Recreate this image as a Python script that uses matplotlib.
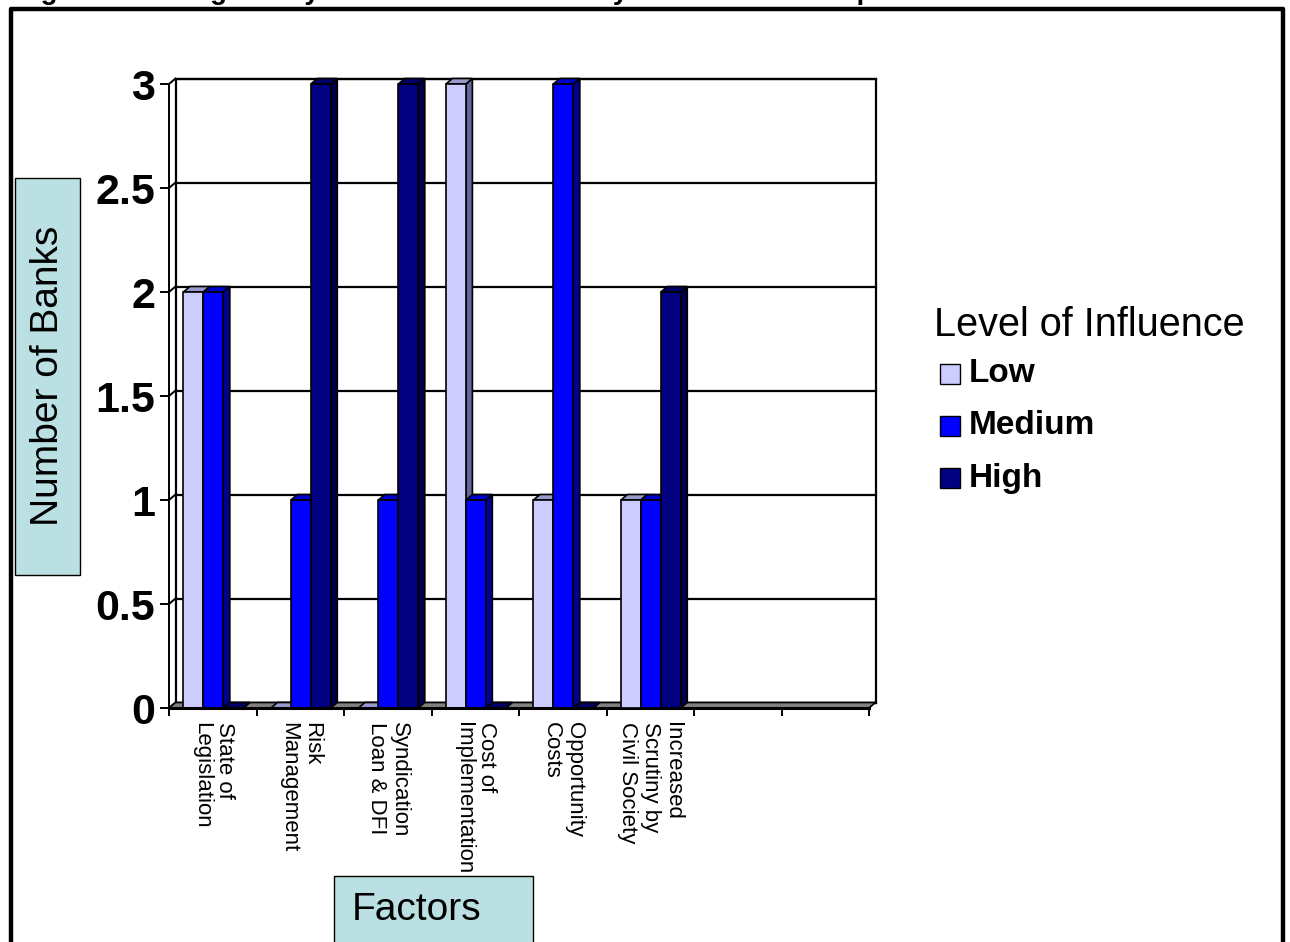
import matplotlib
matplotlib.use("Agg")
import matplotlib.pyplot as plt
from matplotlib.patches import Polygon, Rectangle
from matplotlib.lines import Line2D
import numpy as np

plt.rcParams['font.family'] = ['Liberation Sans', 'DejaVu Sans']

# ---- data -------------------------------------------------------------
categories = [
    "State of\nLegislation",
    "Risk\nManagement",
    "Syndication\nLoan & DFI",
    "Cost of\nImplementation",
    "Opportunity\nCosts",
    "Increased\nScrutiny by\nCivil Society",
    "",
    "",
]
series_names = ["Low", "Medium", "High"]
low_values = [2, 0, 0, 3, 1, 1, None, None]
medium_values = [2, 1, 1, 1, 3, 1, None, None]
high_values = [0, 3, 3, 0, 0, 2, None, None]
y_ticks = [0, 0.5, 1, 1.5, 2, 2.5, 3]
y_tick_labels = ["0", "0.5", "1", "1.5", "2", "2.5", "3"]

title_text = "Figure 3: Rating of Key Factors Considered by Banks in EP Adoption Process"
y_label = "Number of Banks"
x_label = "Factors"
legend_title = "Level of Influence"

# face / top / side shades for each series
front_colors = ["#CCCCFF", "#0000FF", "#000080"]
top_colors = ["#9999CC", "#0000CC", "#000066"]
side_colors = ["#666699", "#000099", "#00004D"]

W, H = 1290, 942
fig = plt.figure(figsize=(W / 100, H / 100), dpi=100)


def fx(px):
    return px / W


def fy(py):
    return 1 - py / H


# outer frame (open at the bottom)
fig.add_artist(Line2D([fx(11), fx(11), fx(1283), fx(1283)],
                      [fy(945), fy(9), fy(9), fy(945)],
                      color="black", lw=3.2, transform=fig.transFigure))

# title, running off the top edge
fig.text(fx(16), fy(-1), title_text, fontsize=20, fontweight="bold",
         ha="left", va="baseline")

# plot axes: front plane of the 3-D box
x0_px, x1_px, y0_px, y1_px = 169, 869, 708, 84
ax = fig.add_axes([fx(x0_px), fy(y0_px), (x1_px - x0_px) / W, (y0_px - y1_px) / H])
n_cat = len(categories)
ax.set_xlim(0, n_cat)
ax.set_ylim(0, 3)
ax.patch.set_visible(False)

# depth offset of the box (data units)
dx = 6.5 / ((x1_px - x0_px) / n_cat)
dy = 5.5 / ((y0_px - y1_px) / 3)

for s in ["top", "right"]:
    ax.spines[s].set_visible(False)
ax.spines["left"].set_linewidth(1.4)
ax.spines["bottom"].set_linewidth(2.2)
ax.spines["left"].set_zorder(1)

ax.set_yticks(y_ticks)
ax.set_yticklabels(y_tick_labels, fontsize=31, fontweight="bold")
ax.tick_params(axis="y", length=6.5, width=1.4, pad=3.5)

ax.set_xticks(np.arange(0, n_cat + 1))
ax.set_xticklabels([])
ax.tick_params(axis="x", which="major", length=6, width=1.4)
ax.set_xticks(np.arange(n_cat) + 0.5, minor=True)
ax.set_xticklabels(categories, minor=True, rotation=270, fontsize=16,
                   linespacing=1.1)
ax.tick_params(axis="x", which="minor", length=0, pad=10)
for t in ax.get_xticklabels(minor=True):
    t.set_multialignment("left")

# back wall
ax.add_patch(Polygon([(dx, dy), (n_cat + dx, dy), (n_cat + dx, 3 + dy), (dx, 3 + dy)],
                     closed=True, facecolor="white", edgecolor="black", lw=1.6,
                     zorder=0.5, clip_on=False))
# gridlines on the back wall plus connectors across the side wall
for v in y_ticks:
    ax.plot([dx, n_cat + dx], [v + dy, v + dy], color="black", lw=1.6,
            zorder=0.6, clip_on=False)
    ax.plot([0, dx], [v, v + dy], color="black", lw=1.4, zorder=0.6, clip_on=False)
# back edge of the side wall
ax.plot([dx, dx], [dy, 3 + dy], color="black", lw=1.4, zorder=0.6, clip_on=False)

# floor
ax.add_patch(Polygon([(0, 0), (n_cat, 0), (n_cat + dx, dy), (dx, dy)], closed=True,
                     facecolor="#808080", edgecolor="black", lw=1.2, zorder=0.7,
                     clip_on=False))

# 3-D bars
bar_w = 0.228
bar_off = 0.165
all_values = [low_values, medium_values, high_values]
for i in range(n_cat):
    for j, vals in enumerate(all_values):
        v = vals[i]
        if v is None:
            continue
        x0 = i + bar_off + j * bar_w
        x1 = x0 + bar_w
        z = 2 + i * 0.1 + j * 0.01
        ax.add_patch(Polygon([(x1, 0), (x1 + dx, dy), (x1 + dx, v + dy), (x1, v)],
                             closed=True, facecolor=side_colors[j], edgecolor="black",
                             lw=1.2, zorder=z, clip_on=False))
        ax.add_patch(Polygon([(x0, v), (x1, v), (x1 + dx, v + dy), (x0 + dx, v + dy)],
                             closed=True, facecolor=top_colors[j], edgecolor="black",
                             lw=1.2, zorder=z, clip_on=False))
        ax.add_patch(Rectangle((x0, 0), bar_w, v, facecolor=front_colors[j],
                               edgecolor="black", lw=1.2, zorder=z + 0.001,
                               clip_on=False))

# axis title boxes
fig.add_artist(Rectangle((fx(15), fy(575)), fx(80) - fx(15), fy(178) - fy(575),
                         facecolor="#BBE0E3", edgecolor="black", lw=1.0,
                         transform=fig.transFigure))
fig.text(fx(48), fy(376), y_label, fontsize=28, rotation=90, ha="center", va="center")

fig.add_artist(Rectangle((fx(334), fy(950)), fx(533) - fx(334), fy(876) - fy(950),
                         facecolor="#BBE0E3", edgecolor="black", lw=1.0,
                         transform=fig.transFigure))
fig.text(fx(352), fy(910), x_label, fontsize=28, ha="left", va="center")

# legend
fig.text(fx(934), fy(325), legend_title, fontsize=28.5, ha="left", va="center")
for j, name in enumerate(series_names):
    yc = 374 + j * 52
    fig.add_artist(Rectangle((fx(940), fy(yc + 10)), 20 / W, 20 / H,
                             facecolor=front_colors[j], edgecolor="black", lw=1.0,
                             transform=fig.transFigure))
    fig.text(fx(969), fy(yc), name, fontsize=24, fontweight="bold",
             ha="left", va="center")

fig.savefig("out.png", dpi=100)
